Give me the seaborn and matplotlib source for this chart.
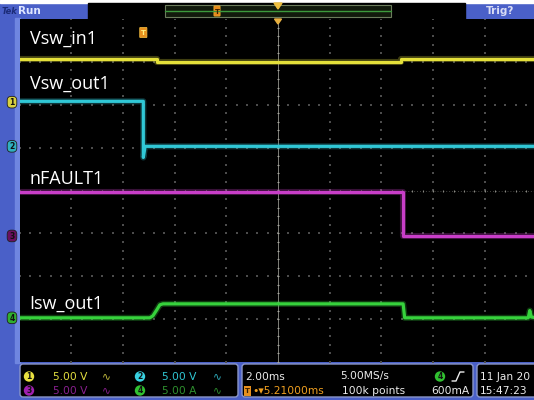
import matplotlib
matplotlib.use("Agg")
import numpy as np
import pandas as pd
import matplotlib.pyplot as plt
import matplotlib.patheffects as pe
from matplotlib.patches import Rectangle, FancyBboxPatch, Polygon, Circle
import seaborn as sns

# ---- acquisition settings -------------------------------------------------
ms_per_div = 2.0          # horizontal scale
n_hdiv, n_vdiv = 10, 8    # graticule divisions
trigger_delay_ms = -5.21  # trigger point relative to screen centre

# channel names, scale (units/div) and ground-marker position (div)
ch_names = ["Vsw_in1", "Vsw_out1", "nFAULT1", "Isw_out1"]
ch_scale = [5.0, 5.0, 5.0, 5.0]
ch_offset = [2.06, 1.03, -1.06, -2.97]
ch_colors = ["#e4e03a", "#30c8d6", "#c83ec8", "#36d23c"]

# ---- waveforms (time in ms relative to screen centre) ---------------------
vsw_in_t = [-10.0, -4.70, -4.70, 4.75, 4.75, 10.0]
vsw_in_v = [5.00, 5.00, 4.72, 4.72, 5.00, 5.00]

vsw_out_t = [-10.0, -5.21, -5.21, -5.14, 10.0]
vsw_out_v = [5.25, 5.25, -1.30, 0.00, 0.00]

nfault_t = [-10.0, 4.82, 4.82, 10.0]
nfault_v = [5.13, 5.13, 0.00, 0.00]

isw_t = [-10.0, -4.96, -4.84, -4.69, -4.57, -4.45, 4.84, 4.90, 9.68, 9.74, 9.80, 10.0]
isw_v = [0.00, 0.00, 0.23, 0.93, 1.52, 1.63, 1.63, 0.00, 0.00, 0.85, 0.10, 0.00]

traces = [(vsw_in_t, vsw_in_v), (vsw_out_t, vsw_out_v),
          (nfault_t, nfault_v), (isw_t, isw_v)]

rows = []
for name, scale, off, (tt, vv) in zip(ch_names, ch_scale, ch_offset, traces):
    for t, v in zip(tt, vv):
        rows.append({"t": t, "div": off + v / scale, "channel": name})
df = pd.DataFrame(rows)

# ---- figure ----------------------------------------------------------------
W, H = 534, 400
FRAME = "#4a60c8"
sns.set_style("dark")
fig = plt.figure(figsize=(W / 100, H / 100), dpi=100, facecolor=FRAME)

def px_axes(z):
    a = fig.add_axes([0, 0, 1, 1], zorder=z)
    a.set_xlim(0, W)
    a.set_ylim(H, 0)
    a.axis("off")
    a.patch.set_alpha(0)
    return a

bg = px_axes(0)

# plot area in pixel coordinates
x0, x1 = 19.5, 536.5
y0, y1 = 19.0, 362.0
ax = fig.add_axes([x0 / W, 1 - y1 / H, (x1 - x0) / W, (y1 - y0) / H], zorder=1)
ax.set_facecolor("black")
ax.set_xlim(-n_hdiv / 2 * ms_per_div, n_hdiv / 2 * ms_per_div)
ax.set_ylim(-n_vdiv / 2, n_vdiv / 2)
for s in ax.spines.values():
    s.set_visible(False)
ax.set_xticks([])
ax.set_yticks([])

# graticule: dotted division lines
xl = np.arange(-8, 9, 2.0)
yl = np.arange(-3, 4, 1.0)
ydots = np.arange(-4, 4.01, 0.2)
xdots = np.arange(-10, 10.01, 0.4)
dot_col = "#4c4c4c"
for x in xl:
    if x == 0:
        continue
    ax.scatter(np.full_like(ydots, x), ydots, s=0.6, marker="s",
               color=dot_col, linewidths=0, zorder=1)
for y in yl:
    if y == 0:
        continue
    ax.scatter(xdots, np.full_like(xdots, y), s=0.6, marker="s",
               color=dot_col, linewidths=0, zorder=1)
# centre crosshair
ax.axvline(0, color="#80807a", lw=0.7, zorder=1)
ax.axhline(0, color="#5a5a56", lw=0.6, ls=(0, (1, 2.5)), zorder=1)
ax.scatter(np.zeros_like(ydots), ydots, s=3, marker="_", color="#a8a8a0",
           linewidths=0.8, zorder=1)
ax.scatter(xdots, np.zeros_like(xdots), s=3, marker="|", color="#8a8a84",
           linewidths=0.8, zorder=1)

# waveforms
pal = dict(zip(ch_names, ch_colors))
sns.lineplot(data=df, x="t", y="div", hue="channel", palette=pal,
             estimator=None, sort=False, legend=False, lw=2.3, ax=ax, zorder=3)
for line in ax.get_lines()[-4:]:
    c = line.get_color()
    line.set_path_effects([pe.Stroke(linewidth=4.4, foreground=c, alpha=0.28),
                           pe.Normal()])
ax.set_xlabel("")
ax.set_ylabel("")

# ---- frame decoration --------------------------------------------------------
bg.add_patch(Rectangle((0, 0), W, 3, color="white"))
bg.add_patch(Rectangle((15, 18), 4.5, 345, color="#6f86e0"))
# top status bar
bg.add_patch(Rectangle((88, 3), 377, 15.5, color="black"))
bg.add_patch(Rectangle((165, 5), 226, 12, facecolor="#121a0c", edgecolor="#6c7c5c", lw=0.8))
bg.plot([165, 391], [11, 11], color="#3c9a3c", lw=1.0)
bg.add_patch(FancyBboxPatch((214.5, 6.5), 5, 9, boxstyle="round,pad=0.6",
                            facecolor="#e88a1c", edgecolor="#f0b030", lw=0.5))
bg.text(217, 11.5, "T", color="#3a2000", fontsize=5, ha="center", va="center",
        fontweight="bold")
bg.add_patch(Polygon([[274, 3], [282, 3], [278, 9]], color="#f0c040"))
bg.text(2, 11, "Tek", color="#1c2c78", fontsize=6, fontweight="bold",
        fontstyle="italic", va="center", ha="left")
bg.text(18, 11, "Run", color="#dfe6ff", fontsize=7.5, fontweight="bold",
        va="center", ha="left")
bg.text(486, 11, "Trig?", color="#d8dcf4", fontsize=7.5, fontweight="bold",
        va="center", ha="left")

# bottom readout boxes
for bx, bw in [(20, 218), (242, 231), (477, 70)]:
    bg.add_patch(FancyBboxPatch((bx, 364), bw, 33, boxstyle="round,pad=0,rounding_size=3",
                                facecolor="black", edgecolor="#8a96c8", lw=1.0))

top = px_axes(2)

# waveform labels
lab_font = dict(family="Open Sans", fontsize=13, color="white", ha="left",
                va="baseline")
for name, yb in zip(ch_names, [43.3, 88.3, 183.5, 308.3]):
    top.text(29.5, yb, name, **lab_font)

# channel ground markers on the left edge
marker_fill = ["#d8d040", "#30b0c0", "#6a1060", "#30b030"]
for i, (off, fc) in enumerate(zip(ch_offset, marker_fill)):
    yy = 190.5 - off * 42.875
    top.add_patch(FancyBboxPatch((8, yy - 5), 8, 10, boxstyle="round,pad=0.8,rounding_size=4",
                                 facecolor=fc, edgecolor="#202020", lw=0.6))
    top.text(12, yy + 0.5, str(i + 1), color="#101010", fontsize=5.5,
             fontweight="bold", ha="center", va="center")

# trigger point and trigger position markers in the graticule
t_px = 278 + trigger_delay_ms / ms_per_div * 51.7
top.add_patch(FancyBboxPatch((t_px - 3, 28), 6, 9, boxstyle="round,pad=0.6",
                             facecolor="#e8901e", edgecolor="#f6c040", lw=0.5))
top.text(t_px, 32.8, "T", color="#fff080", fontsize=5, ha="center", va="center",
         fontweight="bold")
top.add_patch(Polygon([[274.5, 19], [281.5, 19], [278, 24]], color="#e8b040"))

# readout text
sf = dict(family="DejaVu Sans", fontsize=7.7, va="center", ha="left")
r1, r2 = 376.5, 390.5

def badge(x, y, n, fc):
    top.add_patch(Circle((x, y), 5.2, facecolor=fc, edgecolor="none"))
    top.text(x, y + 0.3, n, color="#111111", fontsize=5.5, fontweight="bold",
             ha="center", va="center")

badge(29, r1, "1", "#e8e040")
top.text(53, r1, "5.00 V", color="#e4e040", **sf)
top.text(102, r1, "∿", color="#c8c040", **sf)
badge(140, r1, "2", "#38d0e0")
top.text(162, r1, "5.00 V", color="#30c8d4", **sf)
top.text(213, r1, "∿", color="#30b0c0", **sf)
badge(29, r2, "3", "#a020b0")
top.text(53, r2, "5.00 V", color="#8a2090", **sf)
top.text(102, r2, "∿", color="#8a2090", **sf)
badge(140, r2, "4", "#30c030")
top.text(162, r2, "5.00 A", color="#2e902e", **sf)
top.text(213, r2, "∿", color="#2e902e", **sf)

top.text(245, r1, "2.00ms", color="#ececec", **sf)
top.text(340, r1, "5.00MS/s", color="#ececec", **sf)
badge(440, r1, "4", "#30c030")
top.plot([452, 456, 460, 464], [381, 381, 372, 372], color="#ececec", lw=1.0)
top.add_patch(Rectangle((243.5, r2 - 5), 7, 10, facecolor="#e8901e", edgecolor="none"))
top.text(247, r2 + 0.3, "T", color="#3a2000", fontsize=5, ha="center", va="center",
         fontweight="bold")
top.text(252, r2, "•▾5.21000ms", color="#f0a020", **sf)
top.text(342, r2, "100k points", color="#ececec", **sf)
top.text(431, r2, "600mA", color="#ececec", **sf)
top.text(480, r1, "11 Jan 20", color="#ececec", **sf)
top.text(480, r2, "15:47:23", color="#ececec", **sf)

fig.savefig("out.png", dpi=100, facecolor=FRAME)
